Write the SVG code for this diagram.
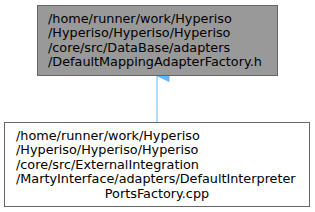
<svg xmlns="http://www.w3.org/2000/svg" width="315" height="212" viewBox="0 0 315 212">
<defs>
<style>
text{font-family:"DejaVu Sans",sans-serif;font-size:12.8px;fill:#000}
.box{stroke:#666666;stroke-width:1}
</style>
<marker id="ah" markerWidth="12" markerHeight="13" refX="6" refY="0" orient="auto" markerUnits="userSpaceOnUse" viewBox="0 0 12 13" overflow="visible">
<path d="M6,0.5 L0.6,12 L11.4,12 Z" fill="#63b8ff" stroke="#63b8ff"/>
</marker>
</defs>
<g id="connectors">
<path d="M157,122 L157,76" stroke="#63b8ff" stroke-width="1" fill="none" marker-end="url(#ah)"/>
</g>
<g id="node1">
<rect class="box" x="37.5" y="5.5" width="240" height="70" fill="#999999"/>
<text x="48" y="22.7">/home/runner/work/Hyperiso</text>
<text x="48" y="37.2">/Hyperiso/Hyperiso/Hyperiso</text>
<text x="48" y="51.7">/core/src/DataBase/adapters</text>
<text x="48" y="66.2">/DefaultMappingAdapterFactory.h</text>
</g>
<g id="node2">
<rect class="box" x="4.5" y="122.5" width="305" height="84" fill="#ffffff"/>
<text x="16" y="139.7">/home/runner/work/Hyperiso</text>
<text x="16" y="154.2">/Hyperiso/Hyperiso/Hyperiso</text>
<text x="16" y="168.7">/core/src/ExternalIntegration</text>
<text x="16" y="183.2">/MartyInterface/adapters/DefaultInterpreter</text>
<text x="157" y="197.7" text-anchor="middle">PortsFactory.cpp</text>
</g>
</svg>
